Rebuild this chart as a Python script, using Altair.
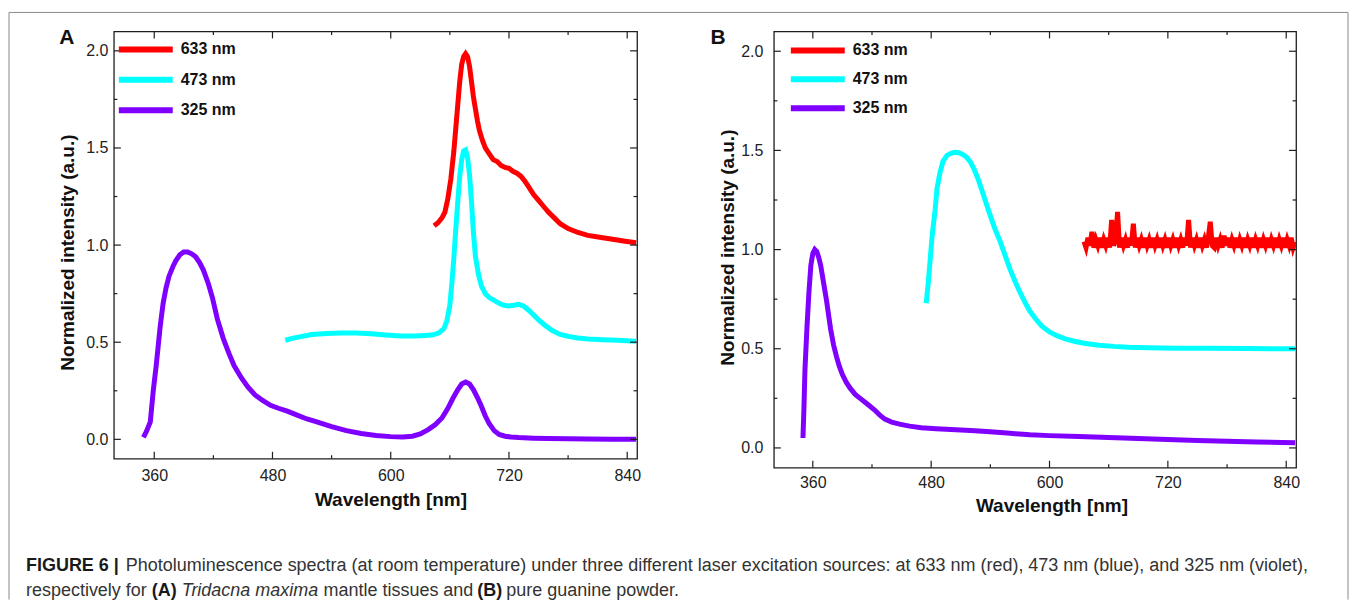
import altair as alt
import pandas as pd

FONT = "Liberation Sans"
SERIES = ["633 nm", "473 nm", "325 nm"]
COLORS = ["#ff0000", "#00ffff", "#7f00ff"]

X_MAJOR = [360, 480, 600, 720, 840]
X_MINOR = [420, 540, 660, 780]
Y_MAJOR = [0.0, 0.5, 1.0, 1.5, 2.0]
Y_MINOR = [0.25, 0.75, 1.25, 1.75]

# ---------------- Panel A : Tridacna maxima mantle tissues ----------------
A_325_X = [349, 352, 356, 359, 362, 366, 369, 372, 375, 379, 382, 386, 390, 394, 398, 402, 406, 410,
           415, 419, 424, 430, 436, 441, 448, 455, 462, 470, 478, 486, 495, 505, 515, 525, 540, 555,
           570, 585, 600, 612, 622, 630, 638, 645, 652, 658, 663, 668, 672, 676, 680, 684, 688, 692,
           696, 700, 705, 710, 716, 722, 730, 745, 760, 780, 800, 825, 849]
A_325_Y = [0.01, 0.04, 0.09, 0.25, 0.38, 0.58, 0.70, 0.78, 0.84, 0.89, 0.92, 0.95, 0.965, 0.965, 0.955,
           0.94, 0.91, 0.87, 0.80, 0.73, 0.62, 0.52, 0.44, 0.38, 0.32, 0.27, 0.23, 0.20, 0.175, 0.16,
           0.145, 0.125, 0.105, 0.09, 0.065, 0.045, 0.03, 0.02, 0.014, 0.012, 0.016, 0.028, 0.05, 0.075,
           0.11, 0.16, 0.21, 0.255, 0.285, 0.295, 0.285, 0.255, 0.215, 0.17, 0.12, 0.08, 0.045, 0.025,
           0.016, 0.012, 0.009, 0.006, 0.004, 0.003, 0.002, 0.001, 0.001]

A_473_X = [493, 500, 510, 520, 535, 550, 565, 580, 595, 610, 625, 635, 643, 649, 654, 657, 660, 662,
           664, 666, 668, 670, 672, 674, 676, 678, 680, 682, 684, 686, 689, 692, 696, 700, 705, 710,
           715, 720, 725, 730, 735, 740, 745, 750, 757, 764, 772, 780, 790, 800, 815, 830, 849]
A_473_Y = [0.51, 0.52, 0.53, 0.54, 0.545, 0.548, 0.547, 0.543, 0.537, 0.532, 0.532, 0.535, 0.538, 0.548,
           0.57, 0.61, 0.69, 0.80, 0.93, 1.08, 1.22, 1.35, 1.44, 1.485, 1.49, 1.45, 1.36, 1.22, 1.06,
           0.94, 0.85, 0.79, 0.75, 0.73, 0.715, 0.70, 0.69, 0.686, 0.69, 0.695, 0.685, 0.665, 0.64,
           0.615, 0.585, 0.56, 0.54, 0.53, 0.522, 0.517, 0.513, 0.51, 0.505]

A_633_X = [644, 648, 652, 655, 658, 661, 664, 666, 668, 670, 672, 674, 676, 678, 680, 682, 684, 686,
           688, 690, 693, 696, 700, 704, 708, 712, 716, 720, 724, 728, 732, 736, 740, 745, 750, 755,
           760, 766, 772, 780, 790, 800, 812, 825, 838, 849]
A_633_Y = [1.10, 1.115, 1.14, 1.17, 1.24, 1.34, 1.48, 1.60, 1.72, 1.84, 1.93, 1.97, 1.985, 1.97, 1.92,
           1.84, 1.76, 1.70, 1.64, 1.59, 1.54, 1.50, 1.47, 1.44, 1.43, 1.41, 1.40, 1.395, 1.38, 1.37,
           1.355, 1.33, 1.30, 1.26, 1.23, 1.20, 1.17, 1.14, 1.11, 1.085, 1.065, 1.05, 1.04, 1.03, 1.02,
           1.012]

# ---------------- Panel B : pure guanine powder ----------------
B_325_X = [350, 351, 352, 354, 356, 358, 360, 362, 364, 366, 368, 370, 372, 374, 376, 378, 381, 384,
           387, 390, 394, 398, 403, 408, 413, 418, 423, 428, 433, 440, 448, 458, 470, 485, 500, 520,
           540, 560, 580, 600, 630, 660, 690, 720, 750, 780, 810, 849]
B_325_Y = [0.05, 0.20, 0.39, 0.60, 0.78, 0.92, 0.98, 1.0, 0.99, 0.96, 0.92, 0.86, 0.80, 0.74, 0.67,
           0.60, 0.52, 0.46, 0.41, 0.37, 0.33, 0.30, 0.27, 0.25, 0.23, 0.21, 0.19, 0.165, 0.145, 0.13,
           0.12, 0.11, 0.102, 0.097, 0.093, 0.088, 0.082, 0.074, 0.066, 0.062, 0.057, 0.052, 0.047,
           0.043, 0.038, 0.034, 0.030, 0.026]

B_473_X = [475, 477, 479, 481, 484, 486, 489, 492, 496, 500, 504, 508, 512, 516, 520, 524, 528, 532,
           536, 540, 545, 550, 555, 560, 565, 570, 575, 580, 586, 592, 600, 608, 616, 625, 635, 650,
           665, 680, 700, 730, 760, 800, 849]
B_473_Y = [0.73, 0.83, 0.95, 1.07, 1.20, 1.31, 1.39, 1.445, 1.475, 1.485, 1.49, 1.488, 1.48, 1.465,
           1.44, 1.40, 1.35, 1.29, 1.23, 1.17, 1.10, 1.04, 0.97, 0.90, 0.84, 0.785, 0.735, 0.69, 0.65,
           0.615, 0.585, 0.565, 0.55, 0.538, 0.528, 0.518, 0.512, 0.508, 0.505, 0.503, 0.502, 0.501,
           0.500]

B_633_X = [635, 637, 639, 641, 643, 645, 647, 649, 651, 653, 655, 657, 659, 661, 663, 665, 667, 669,
           671, 673, 675, 677, 679, 681, 683, 685, 687, 689, 691, 693, 695, 697, 699, 701, 703, 705,
           707, 709, 711, 713, 715, 717, 719, 721, 723, 725, 727, 729, 731, 733, 735, 737, 739, 741,
           743, 745, 747, 749, 751, 753, 755, 757, 759, 761, 763, 765, 767, 769, 771, 773, 775, 777,
           779, 781, 783, 785, 787, 789, 791, 793, 795, 797, 799, 801, 803, 805, 807, 809, 811, 813,
           815, 817, 819, 821, 823, 825, 827, 829, 831, 833, 835, 837, 839, 841, 843, 845, 847, 849]
B_633_Y = [1.04, 1.01, 1.06, 1.02, 1.09, 1.01, 1.05, 1.02, 1.06, 1.01, 1.05, 1.02, 1.06, 1.01, 1.15,
           1.02, 1.05, 1.19, 1.01, 1.06, 1.02, 1.05, 1.01, 1.06, 1.02, 1.13, 1.01, 1.06, 1.02, 1.05,
           1.01, 1.06, 1.02, 1.05, 1.01, 1.06, 1.02, 1.05, 1.01, 1.06, 1.02, 1.05, 1.01, 1.06, 1.02,
           1.05, 1.01, 1.06, 1.02, 1.05, 1.01, 1.06, 1.02, 1.15, 1.01, 1.06, 1.02, 1.05, 1.01, 1.06,
           1.02, 1.05, 1.01, 1.06, 1.14, 1.02, 1.01, 1.06, 1.02, 1.05, 1.01, 1.07, 1.02, 1.06, 1.01,
           1.05, 1.02, 1.06, 1.01, 1.05, 1.02, 1.06, 1.01, 1.05, 1.02, 1.06, 1.01, 1.05, 1.02, 1.06,
           1.01, 1.05, 1.02, 1.06, 1.01, 1.05, 1.02, 1.06, 1.01, 1.05, 1.02, 1.06, 1.01, 1.05, 1.02,
           1.06, 1.01, 1.04]

# ---------------- caption (pieces, positions relative to panel A's plot origin) ----------------
CAPTION = [
    ("FIGURE 6 |", -88, 535, "bold", "normal"),
    ("Photoluminescence spectra (at room temperature) under three different laser excitation "
     "sources: at 633 nm (red), 473 nm (blue), and 325 nm (violet),", 12, 535, "normal", "normal"),
    ("respectively for", -88, 560, "normal", "normal"),
    ("(A)", 38, 560, "bold", "normal"),
    ("Tridacna maxima", 68, 560, "normal", "italic"),
    ("mantle tissues and", 210, 560, "normal", "normal"),
    ("(B)", 364, 560, "bold", "normal"),
    ("pure guanine powder.", 393, 560, "normal", "normal"),
]

FRAME = "#1e1e1e"
BORDER = "#8a8a8a"


def spectra(parts):
    rows = []
    for name, xs, ys in parts:
        for x, y in zip(xs, ys):
            rows.append({"series": name, "wl": x, "val": y})
    return pd.DataFrame(rows)


def panel(df, letter, w, h, xdom, p):
    xs = alt.Scale(domain=xdom, nice=False, zero=False)
    ys = alt.Scale(domain=[-0.1, 2.1], nice=False, zero=False)
    xaxis = alt.Axis(values=X_MAJOR, title="Wavelength [nm]", labelPadding=p["xlp"],
                     labelFlush=False, titleX=p["xtx"], titleY=p["xty"],
                     titleBaseline="middle", titleAlign="center")
    yaxis = alt.Axis(values=Y_MAJOR, format=".1f", title="Normalized intensity (a.u.)",
                     labelPadding=p["ylp"], labelFlush=False, titleX=p["ytx"],
                     titleY=p["yty"], titleBaseline="middle", titleAlign="center")
    lines = alt.Chart(df).mark_line(strokeWidth=5, clip=True).encode(
        x=alt.X("wl:Q", scale=xs, axis=xaxis),
        y=alt.Y("val:Q", scale=ys, axis=yaxis),
        color=alt.Color("series:N", scale=alt.Scale(domain=SERIES, range=COLORS),
                        legend=alt.Legend(orient="none", legendX=p["lx"], legendY=p["ly"], title=None,
                                          symbolType="stroke", symbolSize=2916,
                                          symbolStrokeWidth=6, clipHeight=16,
                                          rowPadding=p["rp"], labelOffset=5, padding=0,
                                          labelFont=FONT, labelFontSize=16,
                                          labelFontWeight="bold", labelColor="#111")),
    )
    layers = [lines]
    for vals, ln in ((X_MAJOR, 7), (X_MINOR, 3.5)):
        d = pd.DataFrame({"wl": vals})
        layers.append(alt.Chart(d).mark_rule(color=FRAME, strokeWidth=1.2).encode(
            x=alt.X("wl:Q", scale=xs, axis=xaxis), y=alt.value(h), y2=alt.value(h - ln)))
        layers.append(alt.Chart(d).mark_rule(color=FRAME, strokeWidth=1.2).encode(
            x=alt.X("wl:Q", scale=xs, axis=xaxis), y=alt.value(0), y2=alt.value(ln)))
    for vals, ln in ((Y_MAJOR, 7), (Y_MINOR, 3.5)):
        d = pd.DataFrame({"val": vals})
        layers.append(alt.Chart(d).mark_rule(color=FRAME, strokeWidth=1.2).encode(
            y=alt.Y("val:Q", scale=ys, axis=yaxis), x=alt.value(0), x2=alt.value(ln)))
        layers.append(alt.Chart(d).mark_rule(color=FRAME, strokeWidth=1.2).encode(
            y=alt.Y("val:Q", scale=ys, axis=yaxis), x=alt.value(w), x2=alt.value(w - ln)))
    layers.append(alt.Chart(pd.DataFrame({"label": [letter]})).mark_text(
        font=FONT, fontSize=21, fontWeight="bold", color="#111", align="center",
        baseline="middle").encode(text="label:N", x=alt.value(p["lbx"]), y=alt.value(p["lby"])))
    return layers


dfA = spectra([("633 nm", A_633_X, A_633_Y), ("473 nm", A_473_X, A_473_Y), ("325 nm", A_325_X, A_325_Y)])
dfB = spectra([("633 nm", B_633_X, B_633_Y), ("473 nm", B_473_X, B_473_Y), ("325 nm", B_325_X, B_325_Y)])

pA = dict(xlp=9, xtx=277, xty=41, ylp=6, ytx=-46, yty=221, lx=2, ly=10, rp=14.5, lbx=-47, lby=7)
pB = dict(xlp=7, xtx=278, xty=38, ylp=11, ytx=-46, yty=216, lx=14, ly=11, rp=13, lbx=-56, lby=7)

layersA = panel(dfA, "A", 524, 428, [319, 850], pA)
layersB = panel(dfB, "B", 523, 437, [320.5, 850], pB)

# figure frame and caption, drawn in panel A's coordinate space (outside its plot area)
one = pd.DataFrame({"k": [0]})
layersA.append(alt.Chart(one).mark_rule(color=BORDER, strokeWidth=1).encode(
    x=alt.value(-105), x2=alt.value(1236), y=alt.value(-19)))
layersA.append(alt.Chart(one).mark_rule(color=BORDER, strokeWidth=1).encode(
    x=alt.value(-105), y=alt.value(-19), y2=alt.value(569)))
layersA.append(alt.Chart(one).mark_rule(color=BORDER, strokeWidth=1).encode(
    x=alt.value(1236), y=alt.value(-19), y2=alt.value(569)))
for txt, cx, cy, weight, style in CAPTION:
    layersA.append(alt.Chart(pd.DataFrame({"t": [txt]})).mark_text(
        font=FONT, fontSize=18, fontWeight=weight, fontStyle=style,
        color="#1a1a1a" if weight == "bold" else "#333333", align="left", baseline="middle"
    ).encode(text="t:N", x=alt.value(cx), y=alt.value(cy)))

chartA = alt.layer(*layersA).properties(width=524, height=428)
chartB = alt.layer(*layersB).properties(width=523, height=437)

chart = alt.hconcat(chartA, chartB, spacing=137, bounds="flush").resolve_scale(
    color="independent").resolve_legend(color="independent").properties(
    padding={"left": -1, "top": 2, "right": 0, "bottom": 0}
).configure_view(stroke=FRAME, strokeWidth=1.3).configure_axis(
    labelFont=FONT, titleFont=FONT, labelFontSize=16, titleFontSize=19, titleFontWeight="bold",
    labelColor="#222", titleColor="#111", ticks=False, tickSize=0, domain=False, grid=False)

chart.save("out.html", embed_options={"renderer": "svg", "actions": False})
